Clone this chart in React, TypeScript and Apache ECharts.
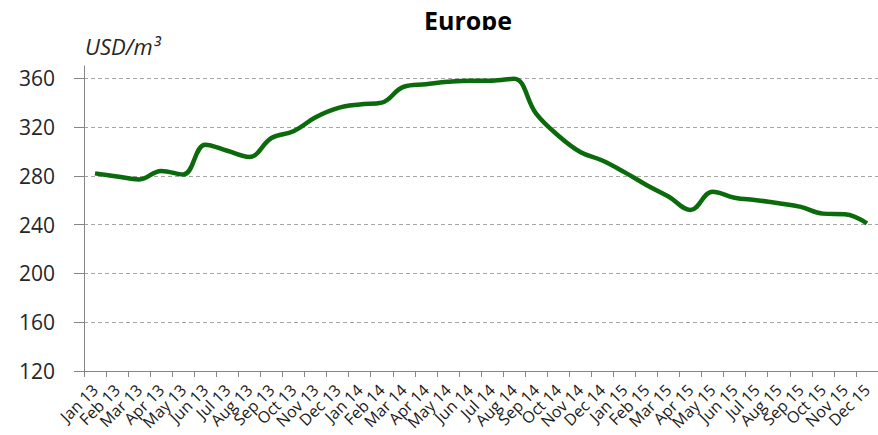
import React, { useEffect, useRef } from "react";
import * as echarts from "echarts";

const months = [
  "Jan 13", "Feb 13", "Mar 13", "Apr 13", "May 13", "Jun 13", "Jul 13", "Aug 13", "Sep 13", "Oct 13", "Nov 13", "Dec 13",
  "Jan 14", "Feb 14", "Mar 14", "Apr 14", "May 14", "Jun 14", "Jul 14", "Aug 14", "Sep 14", "Oct 14", "Nov 14", "Dec 14",
  "Jan 15", "Feb 15", "Mar 15", "Apr 15", "May 15", "Jun 15", "Jul 15", "Aug 15", "Sep 15", "Oct 15", "Nov 15", "Dec 15",
];

const europePrice = [
  282, 279.5, 277, 284, 281, 305.5, 300.5, 295.5, 311, 316.5, 328, 335.5,
  338.5, 340, 353, 355, 357, 358, 358, 359.5, 331, 313, 299.5, 292.5,
  283, 272.5, 263, 252, 267, 262, 260, 257.5, 254.5, 249, 248.5, 241,
];

const yTicks = [120, 160, 200, 240, 280, 320, 360];

const FONT = "'Open Sans', 'Noto Sans', sans-serif";

export default function App() {
  const ref = useRef<HTMLDivElement>(null);

  useEffect(() => {
    document.body.style.margin = "0";
    const chart = echarts.init(ref.current!, null, { renderer: "svg" });
    chart.setOption({
      animation: false,
      backgroundColor: "#ffffff",
      title: {
        text: "Europe",
        left: 463,
        textAlign: "center",
        top: 2,
        textStyle: { fontFamily: FONT, fontSize: 25, fontWeight: "bold", color: "#000000" },
      },
      graphic: [
        {
          type: "rect",
          z: 100,
          shape: { x: 390, y: 30, width: 150, height: 7 },
          style: { fill: "#ffffff" },
        },
        {
          type: "text",
          left: 85,
          top: 35,
          style: {
            text: "USD/m³",
            fontFamily: FONT,
            fontSize: 22,
            fontStyle: "italic",
            fill: "#262626",
          },
        },
      ],
      grid: { left: 84, right: -6, top: 66, bottom: 64, containLabel: false },
      xAxis: {
        type: "category",
        data: months,
        boundaryGap: true,
        axisLine: { lineStyle: { color: "#868686", width: 1 } },
        axisTick: { show: true, interval: 0, length: 6, lineStyle: { color: "#868686" } },
        axisLabel: {
          interval: 0,
          rotate: 45,
          margin: 16,
          fontFamily: FONT,
          fontSize: 16,
          color: "#1a1a1a",
        },
        splitLine: { show: false },
      },
      yAxis: {
        type: "value",
        min: 120,
        max: 370,
        interval: 40,
        axisLine: { show: true, lineStyle: { color: "#868686", width: 1 } },
        axisTick: {
          show: true,
          length: 10,
          customValues: yTicks,
          lineStyle: { color: "#868686" },
        },
        axisLabel: {
          customValues: yTicks,
          margin: 29,
          fontFamily: FONT,
          fontSize: 21,
          color: "#262626",
        },
        splitLine: {
          show: true,
          showMinLine: false,
          lineStyle: { color: "#a6a6a6", type: [4, 3], width: 1 },
        },
      },
      series: [
        {
          type: "line",
          data: europePrice,
          smooth: 0.4,
          showSymbol: false,
          symbol: "none",
          lineStyle: { color: "#0b6a0b", width: 4.5 },
          itemStyle: { color: "#0b6a0b" },
        },
      ],
    });
    return () => chart.dispose();
  }, []);

  return <div ref={ref} style={{ width: 878, height: 435 }} />;
}
